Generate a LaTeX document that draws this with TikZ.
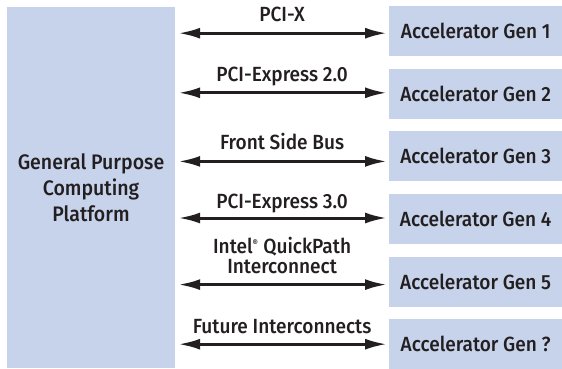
\documentclass[tikz,border=0pt]{standalone}
\usepackage{fontspec}
\setmainfont{Fira Sans Medium}[FakeStretch=0.93]
\usetikzlibrary{arrows.meta}
\definecolor{boxblue}{HTML}{C6D3EB}
\definecolor{ink}{HTML}{231F20}
\tikzset{
  platform/.style={fill=boxblue, draw=none, inner sep=0pt, align=center,
    text=ink, font=\fontsize{21}{26}\selectfont},
  accel/.style={fill=boxblue, draw=none, inner sep=0pt, anchor=north west,
    minimum width=173pt, minimum height=50pt, text=ink,
    font=\fontsize{20.5}{24}\selectfont},
  link/.style={draw=ink, line width=3pt,
    {Latex[length=22pt,width=11pt]}-{Latex[length=22pt,width=11pt]},
    shorten <=3pt, shorten >=2pt},
  linklabel/.style={text=ink, inner sep=0pt, anchor=base,
    font=\fontsize{20.5}{24}\selectfont},
}
\begin{document}
\begin{tikzpicture}[x=1pt,y=-1pt]
  \useasboundingbox (0,0) rectangle (562,369);
  % host platform
  \node[platform, minimum width=168pt, minimum height=360pt] (host) at (91,187.5)
    {General Purpose\\Computing\\Platform};
  % accelerator boxes
  \node[accel] (g1) at (389,6)     {Accelerator Gen 1};
  \node[accel] (g2) at (389,68.6)  {Accelerator Gen 2};
  \node[accel] (g3) at (389,131.2) {Accelerator Gen 3};
  \node[accel] (g4) at (389,193.8) {Accelerator Gen 4};
  \node[accel] (g5) at (389,256.4) {Accelerator Gen 5};
  \node[accel] (g6) at (389,319)   {Accelerator Gen ?};
  % interconnect arrows
  \coordinate (a1) at ([yshift=-2pt]g1.west);
  \coordinate (a2) at ([yshift=1pt]g2.west);
  \coordinate (a3) at ([yshift=-5pt]g3.west);
  \coordinate (a4) at ([yshift=1pt]g4.west);
  \coordinate (a5) at ([yshift=-3pt]g5.west);
  \coordinate (a6) at ([yshift=0pt]g6.west);
  \foreach \i in {1,...,6} {
    \draw[link] (a\i -| host.east) -- (a\i);
  }
  % interconnect names
  \path (a1 -| host.east) -- (a1) node[linklabel, midway, yshift=12pt] (l1) {PCI-X};
  \path (a2 -| host.east) -- (a2) node[linklabel, midway, yshift=11pt] (l2) {PCI-Express 2.0};
  \path (a3 -| host.east) -- (a3) node[linklabel, midway, yshift=11.5pt] (l3) {Front Side Bus};
  \path (a4 -| host.east) -- (a4) node[linklabel, midway, yshift=10pt] (l4) {PCI-Express 3.0};
  \path (a5 -| host.east) -- (a5) node[linklabel, midway, yshift=11pt] (l5) {Interconnect};
  \path (a5 -| host.east) -- (a5) node[linklabel, midway, yshift=31pt] (l5a)
    {Intel\textsuperscript{\fontsize{9}{9}\selectfont®} QuickPath};
  \path (a6 -| host.east) -- (a6) node[linklabel, midway, yshift=11pt] (l6) {Future Interconnects};
\end{tikzpicture}
\end{document}
